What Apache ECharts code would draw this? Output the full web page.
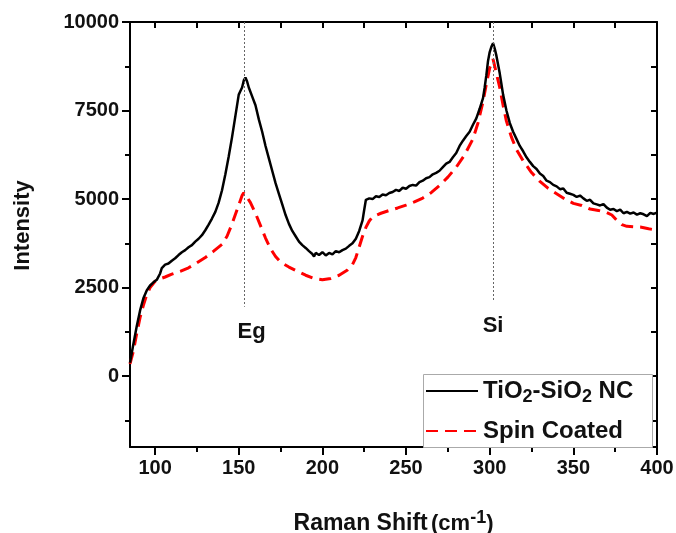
<!DOCTYPE html>
<html>
<head>
<meta charset="utf-8">
<script src="https://cdn.jsdelivr.net/npm/echarts@6/dist/echarts.min.js"></script>
<style>
  html, body { margin: 0; padding: 0; background: #fff; }
  #chart { width: 676px; height: 533px; }
</style>
</head>
<body>
<div id="chart"></div>
<script>
// Raman spectra: TiO2-SiO2 nanocomposite vs. spin coated film
const ncShift = [85,87,89,91,93,95,97,99,101,103,104,106,108,110,112,114,116,118,120,122,124,126,128,130,132,134,136,138,140,142,144,146,148,150,151,152,153,154,155,156,158,160,162,164,166,168,170,172,174,176,178,180,182,184,186,188,190,192,194,195,196,198,200,202,204,206,208,210,212,214,216,218,220,222,224,225,226,228,230,232,234,236,238,240,242,244,246,248,250,252,254,256,258,260,262,264,266,268,270,272,274,276,278,280,282,284,286,288,290,292,294,296,297,298,299,300,301,302,303,304,305,306,307,308,310,312,314,316,318,320,322,324,326,328,330,332,334,336,338,340,342,344,346,348,350,352,354,356,358,360,362,364,366,368,370,372,374,376,378,380,382,384,386,388,390,392,394,396,398,400];
const ncIntensity = [380,900,1400,1850,2200,2420,2560,2650,2720,2900,3050,3150,3180,3260,3330,3420,3500,3560,3640,3700,3800,3880,3980,4120,4280,4450,4640,4900,5250,5700,6200,6750,7350,7950,8050,8150,8350,8430,8320,8150,7900,7650,7250,6900,6500,6150,5800,5450,5150,4850,4550,4300,4100,3950,3800,3700,3620,3530,3450,3380,3480,3420,3500,3410,3480,3440,3530,3500,3560,3600,3680,3750,3880,4100,4400,4700,4980,5020,5000,5080,5060,5130,5110,5170,5200,5260,5230,5320,5290,5370,5400,5380,5480,5520,5590,5620,5700,5740,5800,5900,6000,6050,6180,6300,6500,6650,6780,6900,7100,7280,7550,7850,8150,8500,8900,9150,9300,9400,9250,9050,8800,8550,8250,7950,7500,7150,6900,6700,6500,6350,6180,6050,5930,5850,5720,5650,5520,5480,5400,5360,5280,5300,5180,5150,5120,5060,5100,5020,4950,4980,4880,4850,4820,4860,4760,4700,4720,4660,4700,4600,4640,4590,4620,4560,4600,4570,4520,4610,4580,4620];

const scShift = [85,87,89,91,93,95,97,100,103,106,110,115,120,125,130,135,140,143,146,149,152,153,155,157,160,163,166,169,172,175,180,185,190,195,200,205,210,215,218,220,222,224,226,228,230,235,240,245,250,255,260,265,270,275,280,285,290,293,296,298,300,302,304,306,308,310,313,316,320,325,330,335,340,345,350,355,360,365,370,373,376,379,382,386,390,395,400];
const scIntensity = [350,700,1200,1650,2000,2300,2500,2680,2750,2800,2880,2960,3060,3200,3350,3530,3720,3950,4300,4700,5100,5180,5050,4900,4600,4250,3900,3600,3380,3220,3080,2960,2850,2760,2720,2760,2850,3000,3150,3350,3650,3950,4200,4380,4500,4600,4680,4750,4830,4920,5030,5180,5380,5620,5900,6250,6700,7150,7750,8250,8700,8950,8550,8150,7650,7200,6750,6400,6080,5750,5500,5300,5150,5000,4880,4820,4720,4680,4620,4550,4400,4280,4230,4220,4210,4160,4120];

// Peak assignments
const peakNames = ['Eg', 'Si'];
const peakShift = [153.5, 302];
const peakLineEnd = [1960, 2130];

// Axis ticks
const xMin = 85, xMax = 400, xStep = 5;
const xMajor = [100, 150, 200, 250, 300, 350, 400];
const xMinor = [125, 175, 225, 275, 325, 375];
const xTop = [100, 125, 150, 175, 200, 225, 250, 275, 300, 325, 350, 375];
const yMajor = [0, 2500, 5000, 7500, 10000];
const yMinor = [-1250, 1250, 3750, 6250, 8750];
const yRight = [-1250, 0, 1250, 2500, 3750, 5000, 6250, 7500, 8750];

const seriesNames = ['TiO2-SiO2 NC', 'Spin Coated'];

const FONT = '"Liberation Sans", Arial, Helvetica, sans-serif';
const zip = (xs, ys) => xs.map((x, i) => [x, ys[i]]);

// Evenly spaced category slots spanning the x range, used only to place tick marks
const tickSlots = [];
for (let v = xMin; v <= xMax; v += xStep) tickSlots.push(v);

const chart = echarts.init(document.getElementById('chart'), null, { renderer: 'canvas' });

const frameLine = { show: true, onZero: false, lineStyle: { color: '#000', width: 2 } };
const hiddenLine = { show: false, onZero: false };
const tickStyle = { color: '#000', width: 2 };

const slotAxis = (position, values, extra) => Object.assign({
  type: 'category',
  position: position,
  data: tickSlots,
  boundaryGap: false,
  splitLine: { show: false },
  axisLine: hiddenLine,
  axisLabel: { show: false },
  axisTick: {
    show: true,
    interval: (idx, val) => values.indexOf(Number(val)) !== -1,
    lineStyle: tickStyle
  }
}, extra);

const bareY = (extra) => Object.assign({
  type: 'value', min: -2000, max: 10000,
  splitLine: { show: false },
  axisLine: hiddenLine,
  axisLabel: { show: false }
}, extra);

const topAxis = slotAxis('top', xTop, { axisLine: frameLine });
topAxis.axisTick.inside = true;
topAxis.axisTick.length = 6;
const minorAxis = slotAxis('bottom', xMinor, {});
minorAxis.axisTick.length = 5;

chart.setOption({
  animation: false,
  backgroundColor: '#fff',
  grid: { left: 130, right: 19, top: 22, bottom: 86, containLabel: false, outerBoundsMode: 'none' },
  xAxis: [
    {
      type: 'value', min: xMin, max: xMax,
      position: 'bottom',
      splitLine: { show: false },
      axisLine: frameLine,
      axisTick: { show: true, customValues: xMajor, length: 8, lineStyle: tickStyle },
      axisLabel: {
        show: true, customValues: xMajor, formatter: (v) => String(v),
        color: '#111', fontFamily: FONT, fontWeight: 'bold', fontSize: 20, margin: 11
      },
      name: '{b|Raman Shift} {s|(cm}{sup|-1}{s|)}',
      nameLocation: 'middle',
      nameGap: 62,
      nameTextStyle: {
        rich: {
          b: { fontFamily: FONT, fontWeight: 'bold', fontSize: 23, color: '#111' },
          s: { fontFamily: FONT, fontWeight: 'bold', fontSize: 22, color: '#111' },
          sup: { fontFamily: FONT, fontWeight: 'bold', fontSize: 18, color: '#111', verticalAlign: 'bottom', padding: [0, 0, 12, 0] }
        }
      }
    },
    topAxis,
    minorAxis
  ],
  yAxis: [
    bareY({
      position: 'left',
      axisLine: frameLine,
      axisTick: { show: true, customValues: yMajor, length: 8, lineStyle: tickStyle },
      axisLabel: {
        show: true, customValues: yMajor, formatter: (v) => String(v),
        color: '#111', fontFamily: FONT, fontWeight: 'bold', fontSize: 20, margin: 11
      },
      name: 'Intensity',
      nameLocation: 'middle',
      nameGap: 96,
      nameRotate: 90,
      nameTextStyle: { fontFamily: FONT, fontWeight: 'bold', fontSize: 22, color: '#111', padding: [0, 0, 0, 18] }
    }),
    bareY({
      position: 'right',
      axisLine: frameLine,
      axisTick: { show: true, inside: true, customValues: yRight, length: 6, lineStyle: tickStyle }
    }),
    bareY({
      position: 'left',
      axisTick: { show: true, customValues: yMinor, length: 5, lineStyle: tickStyle }
    })
  ],
  legend: {
    orient: 'vertical',
    left: 425,
    top: 379,
    itemWidth: 52,
    itemHeight: 14,
    itemGap: 13,
    padding: 0,
    data: seriesNames,
    itemStyle: { opacity: 0 },
    formatter: (name) => name === seriesNames[0] ? 'TiO{sub|2}-SiO{sub|2} NC' : name,
    textStyle: {
      fontFamily: FONT, fontWeight: 'bold', fontSize: 24, color: '#111',
      rich: {
        sub: { fontFamily: FONT, fontWeight: 'bold', fontSize: 18, color: '#111', verticalAlign: 'top', padding: [12, 0, 0, 0] }
      }
    }
  },
  graphic: [
    {
      type: 'rect', z: 1,
      shape: { x: 423.5, y: 374.5, width: 229, height: 73 },
      style: { fill: '#fff', stroke: '#aaa', lineWidth: 1 }
    }
  ],
  series: [
    {
      name: seriesNames[0],
      type: 'line',
      xAxisIndex: 0, yAxisIndex: 0,
      data: zip(ncShift, ncIntensity),
      showSymbol: false, symbol: 'none',
      lineStyle: { color: '#000', width: 2.5 },
      itemStyle: { color: '#000' },
      z: 3,
      markLine: {
        silent: true,
        symbol: 'none',
        lineStyle: { color: '#666', type: [2, 2], width: 1 },
        label: {
          show: true, position: 'end', distance: 14,
          fontFamily: FONT, fontWeight: 'bold', fontSize: 22, color: '#111',
          formatter: (p) => p.name
        },
        data: peakNames.map((n, i) => [
          { name: n, coord: [peakShift[i], 10000], label: i === 0 ? { padding: [0, 0, 0, 14] } : {} },
          { coord: [peakShift[i], peakLineEnd[i]] }
        ])
      }
    },
    {
      name: seriesNames[1],
      type: 'line',
      xAxisIndex: 0, yAxisIndex: 0,
      data: zip(scShift, scIntensity),
      showSymbol: false, symbol: 'none',
      lineStyle: { color: '#f00', width: 3, type: [12, 7] },
      itemStyle: { color: '#f00' },
      z: 2
    }
  ]
});
</script>
</body>
</html>
